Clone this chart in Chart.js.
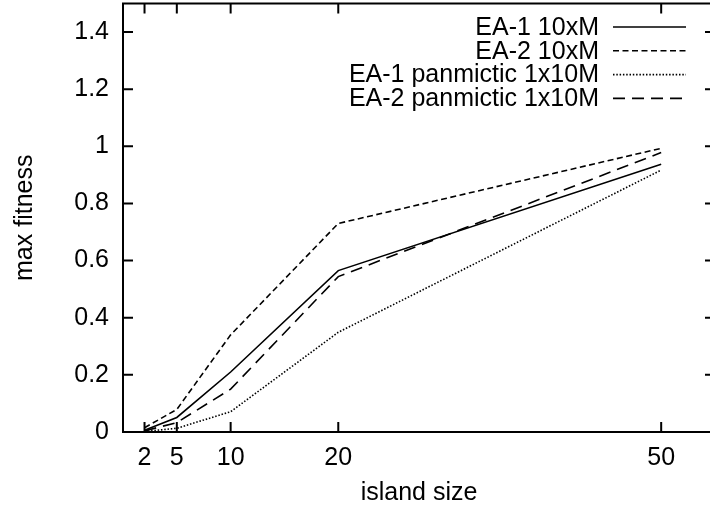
<!DOCTYPE html>
<html>
<head>
<meta charset="utf-8">
<script src="https://cdn.jsdelivr.net/npm/chart.js@4"></script>
<style>
  html, body { margin: 0; padding: 0; background: #fff; overflow: hidden; }
  #wrap { width: 720px; height: 508px; }
</style>
</head>
<body>
<div id="wrap"><canvas id="c"></canvas></div>
<script>
// Island sizes and max fitness reached by each configuration
const islandSizes = [2, 5, 10, 20, 50];
const ea1Island = [0.006, 0.051, 0.21, 0.565, 0.937];
const ea2Island = [0.015, 0.079, 0.34, 0.73, 0.993];
const ea1Panmictic = [0.002, 0.013, 0.071, 0.349, 0.917];
const ea2Panmictic = [0.004, 0.033, 0.15, 0.544, 0.978];
const seriesLabels = ['EA-1 10xM', 'EA-2 10xM', 'EA-1 panmictic 1x10M', 'EA-2 panmictic 1x10M'];
const xTickValues = [2, 5, 10, 20, 50];
const yTickValues = [0, 0.2, 0.4, 0.6, 0.8, 1, 1.2, 1.4];

const FONT = '"Liberation Sans", Arial, sans-serif';
const FONT_SIZE = 25;

const toPoints = vals => islandSizes.map((x, i) => ({ x: x, y: vals[i] }));

const styles = [
  { dash: [], width: 1.6 },
  { dash: [6, 3.5], width: 1.6 },
  { dash: [1.5, 1.8], width: 1.6 },
  { dash: [12, 7], width: 1.6 }
];
const seriesValues = [ea1Island, ea2Island, ea1Panmictic, ea2Panmictic];

const datasets = seriesValues.map((vals, i) => ({
  label: seriesLabels[i],
  data: toPoints(vals),
  borderColor: '#000',
  backgroundColor: '#000',
  borderWidth: styles[i].width,
  borderDash: styles[i].dash,
  pointRadius: 0,
  tension: 0,
  fill: false
}));

// gnuplot-like frame: full box, inward ticks on all sides, key in the top right
const framePlugin = {
  id: 'frame',
  afterDraw(chart) {
    const { ctx, chartArea: a, scales: { x, y } } = chart;
    ctx.save();
    ctx.strokeStyle = '#000';
    ctx.lineWidth = 2;
    ctx.setLineDash([]);
    ctx.strokeRect(a.left, a.top, a.right - a.left, a.bottom - a.top);
    const L = 10;
    ctx.beginPath();
    x.ticks.forEach(t => {
      const px = x.getPixelForValue(t.value);
      ctx.moveTo(px, a.bottom); ctx.lineTo(px, a.bottom - L);
      ctx.moveTo(px, a.top); ctx.lineTo(px, a.top + L);
    });
    y.ticks.forEach(t => {
      const py = y.getPixelForValue(t.value);
      ctx.moveTo(a.left, py); ctx.lineTo(a.left + L, py);
      ctx.moveTo(a.right, py); ctx.lineTo(a.right - L, py);
    });
    ctx.stroke();

    // key
    ctx.font = FONT_SIZE + 'px ' + FONT;
    ctx.fillStyle = '#000';
    ctx.textAlign = 'right';
    ctx.textBaseline = 'middle';
    const textRight = 599, lineStart = 613, lineEnd = 686;
    const rowTop = 27, rowStep = 23.8;
    chart.data.datasets.forEach((ds, i) => {
      const yy = rowTop + i * rowStep;
      ctx.fillText(ds.label, textRight, yy + 1);
      ctx.lineWidth = ds.borderWidth;
      ctx.setLineDash(ds.borderDash);
      ctx.beginPath();
      ctx.moveTo(lineStart, yy);
      ctx.lineTo(lineEnd, yy);
      ctx.stroke();
    });
    ctx.restore();
  }
};

new Chart(document.getElementById('c'), {
  type: 'line',
  data: { datasets: datasets },
  options: {
    responsive: true,
    maintainAspectRatio: false,
    animation: false,
    events: [],
    layout: { padding: { left: 0, right: 5, top: 3.5, bottom: 0 } },
    plugins: {
      legend: { display: false },
      tooltip: { enabled: false }
    },
    scales: {
      x: {
        type: 'linear',
        min: 0,
        max: 55,
        afterBuildTicks: s => { s.ticks = xTickValues.map(v => ({ value: v })); },
        afterFit: s => { s.height = 76; s.paddingLeft = 0; s.paddingRight = 0; },
        grid: { display: false, drawTicks: false },
        border: { display: false },
        ticks: {
          autoSkip: false,
          maxRotation: 0,
          padding: 11,
          color: '#000',
          font: { family: FONT, size: FONT_SIZE },
          callback: v => String(v)
        },
        title: {
          display: true,
          text: 'island size',
          color: '#000',
          font: { family: FONT, size: FONT_SIZE },
          padding: { top: 0, bottom: 0 }
        }
      },
      y: {
        type: 'linear',
        min: 0,
        max: 1.5,
        afterBuildTicks: s => { s.ticks = yTickValues.map(v => ({ value: v })); },
        afterFit: s => { s.width = 123; s.paddingTop = 0; s.paddingBottom = 0; },
        grid: { display: false, drawTicks: false },
        border: { display: false },
        ticks: {
          padding: 14,
          color: '#000',
          font: { family: FONT, size: FONT_SIZE },
          callback: v => String(Math.round(v * 10) / 10)
        },
        title: {
          display: true,
          text: 'max fitness',
          color: '#000',
          font: { family: FONT, size: FONT_SIZE },
          padding: { top: 10, bottom: 0 }
        }
      }
    }
  },
  plugins: [framePlugin]
});
</script>
</body>
</html>
